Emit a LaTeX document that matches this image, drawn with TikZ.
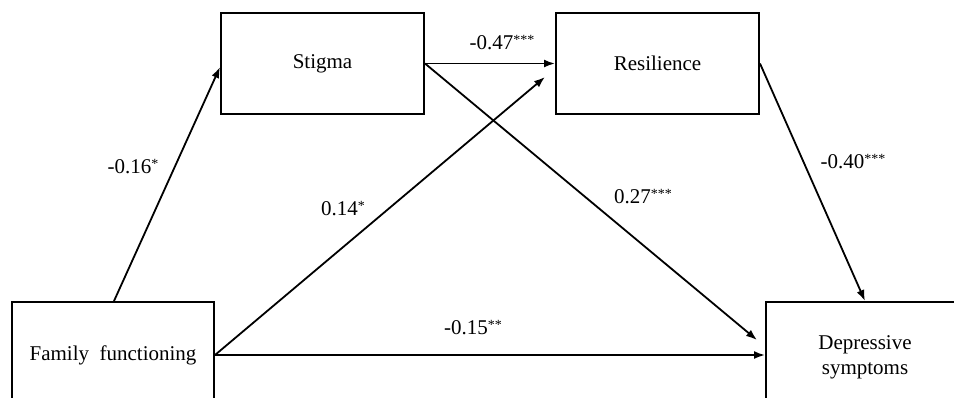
\documentclass[tikz,border=0pt]{standalone}
\usepackage{fontspec}
\setmainfont{Liberation Serif}
\usetikzlibrary{calc,arrows.meta}
\newcommand{\sig}[1]{\raisebox{5pt}{\fontsize{14}{14}\selectfont #1}}
\begin{document}
\begin{tikzpicture}[x=1pt,y=-1pt,
  box/.style={draw=black,line width=2pt,rectangle,inner sep=0pt,align=center,
    font=\fontsize{21}{25}\selectfont},
  conn/.style={draw=black,line width=1.8pt,-{Latex[length=11pt,width=8pt]}},
  lab/.style={font=\fontsize{21}{25}\selectfont,inner sep=0pt}]
\useasboundingbox (0,0) rectangle (954,397);
\clip (0,0) rectangle (954,397);
\fill[white] (0,0) rectangle (954,397);
\node[box,minimum width=202pt,minimum height=106pt] (fam) at (113,355) {Family\ \ functioning};
\node[box,minimum width=203pt,minimum height=101pt] (stig) at (322.5,63.5) {\raisebox{-2pt}{Stigma}};
\node[box,minimum width=203pt,minimum height=101pt] (res) at (657.5,63.5) {Resilience};
\node[box,minimum width=198pt,minimum height=110pt] (dep) at (865,357) {Depressive\\symptoms};
\coordinate (famtop) at ($(fam.north)+(1,0)$);
\coordinate (stigin) at ($(stig.west)+(0,3.5)$);
\coordinate (famres) at ($(res.west)+(-10,13.5)$);
\coordinate (stigdep) at ($(dep.west)+(-8,-17)$);
\draw[conn] (famtop) -- (stigin);
\draw[conn] (stig.east) -- (res.west);
\draw[conn] (fam.east) -- (famres);
\draw[conn] (stig.east) -- (stigdep);
\draw[conn] (fam.east) -- (fam.east -| dep.west);
\draw[conn] (res.east) -- (dep.north);
\node[lab] (l1) at (133,167) {-0.16\sig{*}};
\node[lab] (l2) at (502,43) {-0.47\sig{***}};
\node[lab] (l3) at (343,209) {0.14\sig{*}};
\node[lab] (l4) at (643,197) {0.27\sig{***}};
\node[lab] (l5) at (853,162) {-0.40\sig{***}};
\node[lab] (l6) at (473,328) {-0.15\sig{**}};
\end{tikzpicture}
\end{document}
